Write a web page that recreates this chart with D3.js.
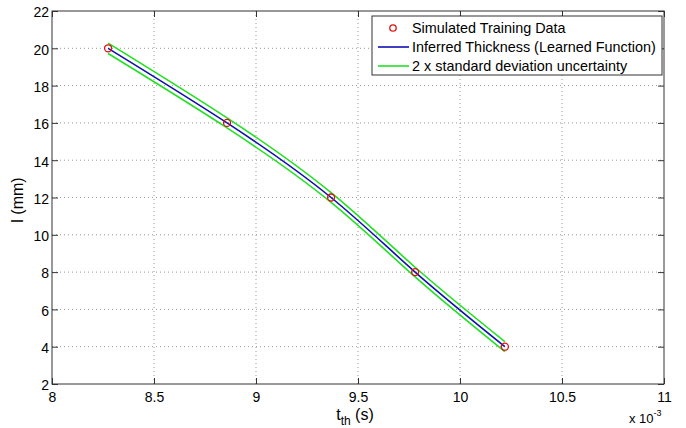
<!DOCTYPE html>
<html><head><meta charset="utf-8">
<script src="https://cdn.jsdelivr.net/npm/d3@7"></script>
<style>body{margin:0;background:#fff}svg{display:block}text{font-family:"Liberation Sans",Arial,sans-serif}</style>
</head><body><svg id="c" width="686" height="428"></svg>
<script>
// data (t in units of 1e-3 s, l in mm)
const tData = [8.275, 8.858, 9.368, 9.78, 10.22];
const lData = [20, 16, 12, 8, 4];
const lUpper = [20.28, 16.27, 12.26, 8.26, 4.27];
const lLower = [19.72, 15.73, 11.74, 7.74, 3.73];
const xTicks = [8, 8.5, 9, 9.5, 10, 10.5, 11];
const yTicks = [2, 4, 6, 8, 10, 12, 14, 16, 18, 20, 22];
const legendLabels = ["Simulated Training Data", "Inferred Thickness (Learned Function)", "2 x standard deviation uncertainty"];

const svg = d3.select("#c");
const L = 52, R = 664, T = 11, B = 384;
const x = d3.scaleLinear().domain([8, 11]).range([L, R]);
const y = d3.scaleLinear().domain([2, 22]).range([B, T]);

// grid
const g = svg.append("g");
g.selectAll(".gx").data(xTicks.slice(1, -1)).join("line")
  .attr("x1", d => x(d)).attr("x2", d => x(d)).attr("y1", T).attr("y2", B)
  .attr("stroke", "#999").attr("stroke-dasharray", "1,3").attr("stroke-width", 1);
g.selectAll(".gy").data(yTicks.slice(1, -1)).join("line")
  .attr("y1", d => y(d)).attr("y2", d => y(d)).attr("x1", L).attr("x2", R)
  .attr("stroke", "#999").attr("stroke-dasharray", "1,3").attr("stroke-width", 1);

// axes
const fmt = d => String(d);
svg.append("g").attr("transform", `translate(0,${B})`)
  .call(d3.axisBottom(x).tickValues(xTicks).tickFormat(fmt).tickSizeInner(-6).tickSizeOuter(0).tickPadding(8))
  .call(a => { a.select(".domain").remove(); a.selectAll("text").attr("font-size", 14).attr("fill", "#000").attr("font-family", "Liberation Sans, Arial"); a.selectAll("line").attr("stroke", "#333"); });
svg.append("g").attr("transform", `translate(0,${T})`)
  .call(d3.axisTop(x).tickValues(xTicks).tickFormat("").tickSizeInner(-6).tickSizeOuter(0))
  .call(a => { a.select(".domain").remove(); a.selectAll("line").attr("stroke", "#333"); });
svg.append("g").attr("transform", `translate(${L},0)`)
  .call(d3.axisLeft(y).tickValues(yTicks).tickFormat(fmt).tickSizeInner(-6).tickSizeOuter(0).tickPadding(3))
  .call(a => { a.select(".domain").remove(); a.selectAll("text").attr("font-size", 14).attr("dy", "0.42em").attr("fill", "#000").attr("font-family", "Liberation Sans, Arial"); a.selectAll("line").attr("stroke", "#333"); });
svg.append("g").attr("transform", `translate(${R},0)`)
  .call(d3.axisRight(y).tickValues(yTicks).tickFormat("").tickSizeInner(-6).tickSizeOuter(0))
  .call(a => { a.select(".domain").remove(); a.selectAll("line").attr("stroke", "#333"); });
svg.append("rect").attr("x", L).attr("y", T).attr("width", R - L).attr("height", B - T)
  .attr("fill", "none").attr("stroke", "#333").attr("stroke-width", 1);

// curves
const line = d3.line().x(d => x(d[0])).y(d => y(d[1])).curve(d3.curveNatural);
svg.append("path").datum(d3.zip(tData, lUpper)).attr("d", line).attr("fill", "none").attr("stroke", "#22e022").attr("stroke-width", 1.6);
svg.append("path").datum(d3.zip(tData, lLower)).attr("d", line).attr("fill", "none").attr("stroke", "#22e022").attr("stroke-width", 1.6);
svg.append("path").datum(d3.zip(tData, lData)).attr("d", line).attr("fill", "none").attr("stroke", "#1010b0").attr("stroke-width", 1.6);
svg.selectAll(".pt").data(d3.zip(tData, lData)).join("circle")
  .attr("cx", d => x(d[0])).attr("cy", d => y(d[1])).attr("r", 3.5)
  .attr("fill", "none").attr("stroke", "#e01010").attr("stroke-width", 1.3);

// axis labels
const xl = svg.append("text").attr("x", 355).attr("y", 420).attr("text-anchor", "middle").attr("font-size", 16);
xl.append("tspan").text("t");
xl.append("tspan").attr("font-size", 12).attr("dy", 5).text("th");
xl.append("tspan").attr("dy", -5).text(" (s)");
svg.append("text").attr("transform", "translate(23,200) rotate(-90)").attr("text-anchor", "middle").attr("font-size", 16).text("l (mm)");
const ex = svg.append("text").attr("x", 629).attr("y", 423).attr("font-size", 13);
ex.append("tspan").text("x 10");
ex.append("tspan").attr("font-size", 9).attr("dy", -7).text("-3");

// legend
const lg = svg.append("g");
lg.append("rect").attr("x", 372).attr("y", 16).attr("width", 290).attr("height", 59)
  .attr("fill", "#fff").attr("stroke", "#333").attr("stroke-width", 1);
const rows = [28, 47, 66];
lg.append("circle").attr("cx", 393).attr("cy", rows[0]).attr("r", 3.2).attr("fill", "none").attr("stroke", "#e01010").attr("stroke-width", 1.3);
lg.append("line").attr("x1", 378).attr("x2", 409).attr("y1", rows[1]).attr("y2", rows[1]).attr("stroke", "#1010b0").attr("stroke-width", 1.6);
lg.append("line").attr("x1", 378).attr("x2", 409).attr("y1", rows[2]).attr("y2", rows[2]).attr("stroke", "#22e022").attr("stroke-width", 1.6);
lg.selectAll(".lt").data(legendLabels).join("text")
  .attr("x", 412).attr("y", (d, i) => rows[i] + 5).attr("font-size", 14.4).text(d => d);
</script></body></html>
